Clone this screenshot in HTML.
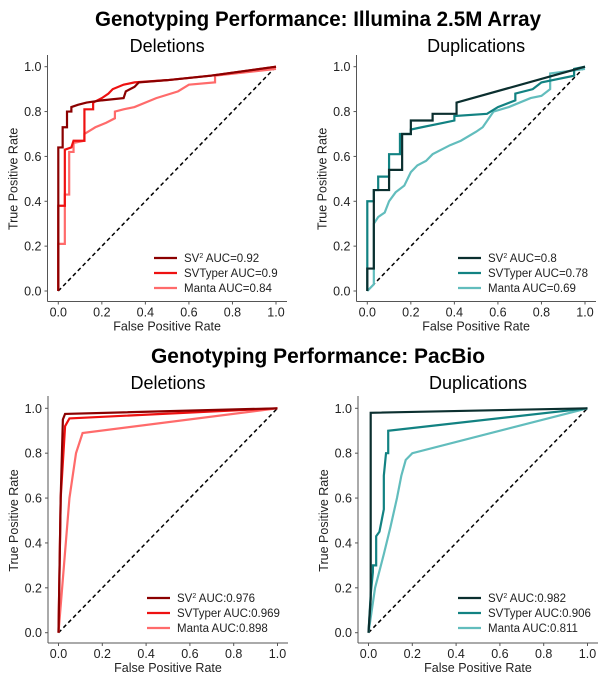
<!DOCTYPE html>
<html><head><meta charset="utf-8"><style>
html,body{margin:0;padding:0;background:#fff;}
svg{display:block;font-family:"Liberation Sans",sans-serif;}
</style></head><body>
<svg id="fig" width="600" height="678" viewBox="0 0 600 678">
<text x="318" y="26" text-anchor="middle" font-size="21" font-weight="bold" textLength="446" lengthAdjust="spacingAndGlyphs">Genotyping Performance: Illumina 2.5M Array</text>
<text x="318" y="363" text-anchor="middle" font-size="21" font-weight="bold" textLength="334" lengthAdjust="spacingAndGlyphs">Genotyping Performance: PacBio</text>
</svg>
<script>
// Illumina Deletions
const illDelSv2 = [[0,0],[0,0.64],[0.02,0.64],[0.02,0.73],[0.04,0.73],[0.04,0.80],[0.06,0.80],[0.06,0.82],[0.09,0.83],[0.13,0.84],[0.2,0.85],[0.3,0.86],[0.31,0.89],[0.35,0.91],[0.37,0.93],[0.5,0.94],[0.7,0.96],[1,1]];
const illDelSvtyper = [[0,0],[0,0.38],[0.03,0.38],[0.03,0.63],[0.06,0.64],[0.07,0.67],[0.12,0.67],[0.12,0.81],[0.16,0.81],[0.16,0.84],[0.2,0.86],[0.23,0.88],[0.25,0.9],[0.3,0.92],[0.35,0.93],[0.5,0.94],[0.7,0.96],[1,1]];
const illDelManta = [[0,0],[0,0.21],[0.03,0.21],[0.03,0.43],[0.05,0.43],[0.05,0.62],[0.07,0.62],[0.07,0.66],[0.12,0.67],[0.12,0.70],[0.17,0.73],[0.22,0.75],[0.26,0.77],[0.26,0.80],[0.3,0.81],[0.35,0.82],[0.45,0.86],[0.55,0.89],[0.6,0.92],[0.72,0.93],[0.72,0.96],[1,0.99]];
// Illumina Duplications
const illDupSv2 = [[0,0],[0,0.1],[0.03,0.1],[0.03,0.45],[0.1,0.45],[0.1,0.54],[0.16,0.54],[0.16,0.7],[0.2,0.7],[0.2,0.76],[0.3,0.76],[0.3,0.79],[0.41,0.79],[0.41,0.84],[1,1]];
const illDupSvtyper = [[0,0],[0,0.4],[0.03,0.4],[0.03,0.45],[0.05,0.45],[0.05,0.51],[0.1,0.51],[0.1,0.61],[0.15,0.61],[0.15,0.7],[0.2,0.7],[0.2,0.72],[0.25,0.73],[0.35,0.75],[0.4,0.76],[0.4,0.78],[0.55,0.79],[0.6,0.82],[0.68,0.85],[0.68,0.88],[0.76,0.9],[0.8,0.93],[0.95,0.96],[0.95,0.99],[1,1]];
const illDupManta = [[0,0],[0.03,0.03],[0.03,0.3],[0.05,0.33],[0.08,0.35],[0.1,0.4],[0.13,0.44],[0.17,0.47],[0.2,0.53],[0.23,0.56],[0.27,0.58],[0.3,0.61],[0.38,0.65],[0.43,0.67],[0.5,0.71],[0.53,0.73],[0.58,0.8],[0.65,0.82],[0.75,0.86],[0.8,0.87],[0.84,0.9],[0.84,0.97],[1,0.99]];
// PacBio Deletions
const pbDelSv2 = [[0,0],[0.01,0.6],[0.02,0.95],[0.03,0.975],[1,1]];
const pbDelSvtyper = [[0,0],[0.01,0.6],[0.03,0.92],[0.05,0.955],[1,1]];
const pbDelManta = [[0,0],[0.05,0.6],[0.08,0.8],[0.11,0.89],[1,1]];
// PacBio Duplications
const pbDupSv2 = [[0,0],[0.01,0.15],[0.01,0.98],[1,1]];
const pbDupSvtyper = [[0,0],[0.01,0.17],[0.02,0.27],[0.02,0.3],[0.035,0.3],[0.035,0.43],[0.05,0.45],[0.06,0.5],[0.07,0.55],[0.07,0.7],[0.08,0.8],[0.09,0.8],[0.09,0.9],[1,1]];
const pbDupManta = [[0,0],[0.03,0.2],[0.07,0.35],[0.1,0.47],[0.13,0.6],[0.15,0.7],[0.17,0.77],[0.2,0.8],[1,1]];
const tickValues = [0,0.2,0.4,0.6,0.8,1.0];
const tickLabels = ["0.0","0.2","0.4","0.6","0.8","1.0"];
const illDelLabels = ["AUC=0.92","AUC=0.9","AUC=0.84"];
const illDupLabels = ["AUC=0.8","AUC=0.78","AUC=0.69"];
const pbDelLabels = ["AUC:0.976","AUC:0.969","AUC:0.898"];
const pbDupLabels = ["AUC:0.982","AUC:0.906","AUC:0.811"];

const NS="http://www.w3.org/2000/svg";
const svg=document.getElementById('fig');
function mk(tag,attrs,parent){const e=document.createElementNS(NS,tag);for(const k in attrs)e.setAttribute(k,attrs[k]);(parent||svg).appendChild(e);return e;}

const reds=["#8b0000","#ee1111","#ff6b6b"];
const teals=["#0b2f2f","#128282","#62bdbd"];

function panel(p){
  const g=mk('g',{});
  
  
  const sx=v=>p.x0+v*(p.x1-p.x0);
  const sy=v=>p.y0+v*(p.y1-p.y0);
  const t=mk('text',{x:(sx(0)+sx(1))/2,y:p.titleY,'text-anchor':'middle','font-size':18},g);
  t.textContent=p.title;
  
  
  const axl=mk('line',{x1:p.spL,y1:p.spT,x2:p.spL,y2:p.spB,stroke:'#555','stroke-width':1},g);
  
  
  const axb=mk('line',{x1:p.spL,y1:p.spB,x2:p.spR,y2:p.spB,stroke:'#555','stroke-width':1},g);
  
  
  tickValues.forEach((v,i)=>{
    mk('line',{x1:p.spL-3,y1:sy(v),x2:p.spL,y2:sy(v),stroke:'#555'},g);
    const yl=mk('text',{x:p.spL-6,y:sy(v)+4.5,'text-anchor':'end','font-size':12.5,fill:'#222'},g);
    yl.textContent=tickLabels[i];
    
    
    mk('line',{x1:sx(v),y1:p.spB,x2:sx(v),y2:p.spB+3,stroke:'#555'},g);
    const xl=mk('text',{x:sx(v),y:p.spB+15,'text-anchor':'middle','font-size':12.5,fill:'#222'},g);
    xl.textContent=tickLabels[i];
    
    
  });
  const xt=mk('text',{x:(sx(0)+sx(1))/2,y:p.spB+29,'text-anchor':'middle','font-size':12.5,fill:'#222'},g);
  xt.textContent='False Positive Rate';
  
  
  const cy=(sy(0)+sy(1))/2;
  const yt=mk('text',{x:p.spL-30,y:cy,'text-anchor':'middle','font-size':12.5,fill:'#222',transform:`rotate(-90 ${p.spL-30} ${cy})`},g);
  yt.textContent='True Positive Rate';
  
  
  const d=mk('line',{x1:sx(0),y1:sy(0),x2:sx(1),y2:sy(1),stroke:'#000','stroke-width':1.5,'stroke-dasharray':'4,3'},g);
  
  
  const names=['sv2','svtyper','manta'];
  [p.s[2],p.s[1],p.s[0]].forEach((s,k)=>{
    const i=2-k;
    const pl=mk('polyline',{points:s.map(q=>sx(q[0])+','+sy(q[1])).join(' '),fill:'none',stroke:p.c[i],'stroke-width':2.2,'stroke-linejoin':'miter'},g);
    
    
  });
  const prefixes=['SV','SVTyper ','Manta '];
  p.labels.forEach((lab,i)=>{
    const ly=p.legY+i*15;
    const ll=mk('line',{x1:p.legX,y1:ly,x2:p.legX+23,y2:ly,stroke:p.c[i],'stroke-width':2.2},g);
    
    
    const tx=mk('text',{x:p.legX+30,y:ly+4,'font-size':11.5,fill:'#222'},g);
    
    
    if(i===0){
      tx.appendChild(document.createTextNode('SV'));
      const sup=mk('tspan',{'font-size':7,dy:-4},tx);sup.textContent='2';
      const rest=mk('tspan',{dy:4},tx);rest.textContent=' '+lab;
    } else tx.textContent=prefixes[i]+lab;
  });
}
panel({name:'illumina-deletions-panel',title:'Deletions',titleY:52,x0:58.3,x1:276,y0:291,y1:66.7,spL:47.5,spR:287,spT:55,spB:301.5,s:[illDelSv2,illDelSvtyper,illDelManta],c:reds,labels:illDelLabels,legX:154,legY:258});
panel({name:'illumina-duplications-panel',title:'Duplications',titleY:52,x0:367.3,x1:585,y0:291,y1:66.7,spL:356.5,spR:596,spT:55,spB:301.5,s:[illDupSv2,illDupSvtyper,illDupManta],c:teals,labels:illDupLabels,legX:458,legY:258});
panel({name:'pacbio-deletions-panel',title:'Deletions',titleY:389,x0:58.5,x1:277.5,y0:632.7,y1:408.3,spL:48,spR:288,spT:396,spB:643,s:[pbDelSv2,pbDelSvtyper,pbDelManta],c:reds,labels:pbDelLabels,legX:147,legY:598});
panel({name:'pacbio-duplications-panel',title:'Duplications',titleY:389,x0:368.5,x1:587.5,y0:632.7,y1:408.3,spL:358,spR:598,spT:396,spB:643,s:[pbDupSv2,pbDupSvtyper,pbDupManta],c:teals,labels:pbDupLabels,legX:458,legY:598});
</script>
</body></html>
